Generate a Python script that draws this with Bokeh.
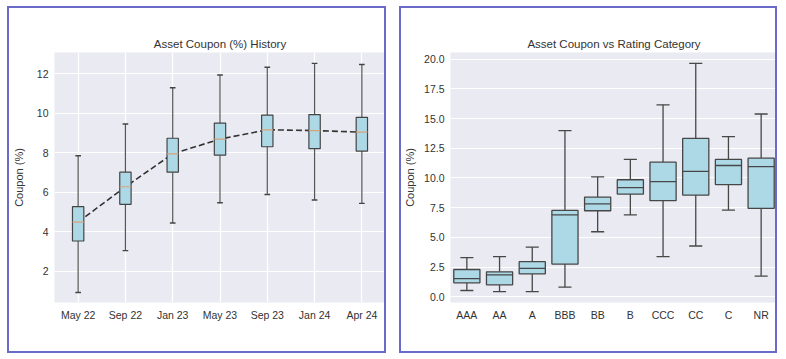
from bokeh.plotting import figure
from bokeh.layouts import row
from bokeh.models import FixedTicker, Range1d, NumeralTickFormatter, ColumnDataSource
from bokeh.embed import file_html
from bokeh.resources import INLINE

# ---- Data: Asset Coupon (%) History ----
hist_dates = ["May 22", "Sep 22", "Jan 23", "May 23", "Sep 23", "Jan 24", "Apr 24"]
hist_low = [0.92, 3.04, 4.44, 5.47, 5.89, 5.61, 5.44]
hist_q1 = [3.53, 5.39, 7.02, 7.88, 8.31, 8.21, 8.09]
hist_med = [4.49, 6.28, 7.95, 8.70, 9.17, 9.13, 9.05]
hist_q3 = [5.27, 7.02, 8.74, 9.51, 9.91, 9.94, 9.80]
hist_high = [7.85, 9.46, 11.30, 11.95, 12.34, 12.54, 12.48]
hist_yticks = [2, 4, 6, 8, 10, 12]

# ---- Data: Asset Coupon vs Rating Category ----
ratings = ["AAA", "AA", "A", "BBB", "BB", "B", "CCC", "CC", "C", "NR"]
rat_low = [0.52, 0.43, 0.43, 0.80, 5.47, 6.89, 3.37, 4.27, 7.30, 1.74]
rat_q1 = [1.17, 1.00, 1.92, 2.75, 7.24, 8.64, 8.09, 8.56, 9.44, 7.44]
rat_med = [1.52, 1.83, 2.38, 6.89, 7.81, 9.18, 9.70, 10.56, 11.05, 10.96]
rat_q3 = [2.29, 2.09, 2.95, 7.27, 8.39, 9.85, 11.33, 13.33, 11.56, 11.67]
rat_high = [3.29, 3.37, 4.18, 13.99, 10.10, 11.56, 16.16, 19.66, 13.48, 15.39]
rat_yticks = [0, 2.5, 5, 7.5, 10, 12.5, 15, 17.5, 20]

FONT = "Liberation Sans"
TXT = "#333333"
BORDER = "2px solid #6a6ac8"


def style(p):
    p.background_fill_color = "#EAEAF2"
    p.border_fill_color = "white"
    p.outline_line_color = None
    p.title.align = "center"
    p.title.text_font = FONT
    p.title.text_font_size = "11.5px"
    p.title.text_font_style = "normal"
    p.title.text_color = TXT
    p.title.standoff = 5
    for ax in (p.xaxis[0], p.yaxis[0]):
        ax.axis_line_color = None
        ax.major_tick_line_color = None
        ax.minor_tick_line_color = None
        ax.major_tick_out = 0
        ax.major_tick_in = 0
        ax.major_label_text_font = FONT
        ax.major_label_text_font_size = "10.5px"
        ax.major_label_text_color = TXT
        ax.major_label_standoff = 6
        ax.axis_label_text_font = FONT
        ax.axis_label_text_font_size = "11px"
        ax.axis_label_text_font_style = "normal"
        ax.axis_label_text_color = TXT
    p.ygrid.grid_line_color = "white"
    p.ygrid.grid_line_width = 1.2
    p.xgrid.grid_line_color = "white"
    p.xgrid.grid_line_width = 1.2


# ---------------- Left panel ----------------
hx = list(range(1, len(hist_dates) + 1))
hbw = 0.24
hcw = 0.12
src_h = ColumnDataSource(dict(
    x=hx, low=hist_low, q1=hist_q1, med=hist_med, q3=hist_q3, high=hist_high,
    xl=[v - hbw / 2 for v in hx], xr=[v + hbw / 2 for v in hx],
    cl=[v - hcw / 2 for v in hx], cr=[v + hcw / 2 for v in hx],
))

p1 = figure(width=379, height=347, output_backend="svg", toolbar_location=None,
            title="Asset Coupon (%) History",
            x_range=Range1d(0.5, len(hist_dates) + 0.5), y_range=Range1d(0.41, 13.09),
            min_border_left=40, min_border_right=3, min_border_top=44, min_border_bottom=53,
            styles={"border": BORDER})
style(p1)
p1.xaxis.ticker = FixedTicker(ticks=hx)
p1.xaxis.major_label_overrides = {i: d for i, d in zip(hx, hist_dates)}
p1.yaxis.ticker = FixedTicker(ticks=hist_yticks)
p1.yaxis.axis_label = "Coupon (%)"
p1.yaxis.axis_label_standoff = 9

p1.segment("x", "low", "x", "q1", source=src_h, line_color="#555555", line_width=1.2)
p1.segment("x", "q3", "x", "high", source=src_h, line_color="#555555", line_width=1.2)
p1.segment("cl", "low", "cr", "low", source=src_h, line_color="#444444", line_width=1.4)
p1.segment("cl", "high", "cr", "high", source=src_h, line_color="#444444", line_width=1.4)
p1.line("x", "med", source=src_h, line_color="#333333", line_width=1.6, line_dash="6 3")
p1.quad(left="xl", right="xr", bottom="q1", top="q3", source=src_h,
        fill_color="#ADD8E6", line_color="#444444", line_width=1.2)
p1.segment("xl", "med", "xr", "med", source=src_h, line_color="#d9a27a", line_width=1.2)

# ---------------- Right panel ----------------
rx = list(range(len(ratings)))
rbw = 0.8
rcw = 0.4
src_r = ColumnDataSource(dict(
    x=rx, low=rat_low, q1=rat_q1, med=rat_med, q3=rat_q3, high=rat_high,
    xl=[v - rbw / 2 for v in rx], xr=[v + rbw / 2 for v in rx],
    cl=[v - rcw / 2 for v in rx], cr=[v + rcw / 2 for v in rx],
))

p2 = figure(width=378, height=347, output_backend="svg", toolbar_location=None,
            title="Asset Coupon vs Rating Category",
            x_range=Range1d(-0.5, len(ratings) - 0.5), y_range=Range1d(-0.49, 20.57),
            min_border_left=47, min_border_right=2, min_border_top=44, min_border_bottom=53,
            styles={"border": BORDER})
style(p2)
p2.xgrid.grid_line_color = None
p2.xaxis.ticker = FixedTicker(ticks=rx)
p2.xaxis.major_label_overrides = {i: r for i, r in zip(rx, ratings)}
p2.yaxis.ticker = FixedTicker(ticks=rat_yticks)
p2.yaxis.formatter = NumeralTickFormatter(format="0.0")
p2.yaxis.axis_label = "Coupon (%)"
p2.yaxis.axis_label_standoff = 5

LC = "#474747"
p2.segment("x", "low", "x", "q1", source=src_r, line_color=LC, line_width=1.3)
p2.segment("x", "q3", "x", "high", source=src_r, line_color=LC, line_width=1.3)
p2.segment("cl", "low", "cr", "low", source=src_r, line_color=LC, line_width=1.3)
p2.segment("cl", "high", "cr", "high", source=src_r, line_color=LC, line_width=1.3)
p2.quad(left="xl", right="xr", bottom="q1", top="q3", source=src_r,
        fill_color="#ADD8E6", line_color=LC, line_width=1.3)
p2.segment("xl", "med", "xr", "med", source=src_r, line_color=LC, line_width=1.3)

layout = row(p1, p2, spacing=13, margin=(6, 0, 0, 7))
open("out.html", "w").write(file_html(layout, INLINE))
